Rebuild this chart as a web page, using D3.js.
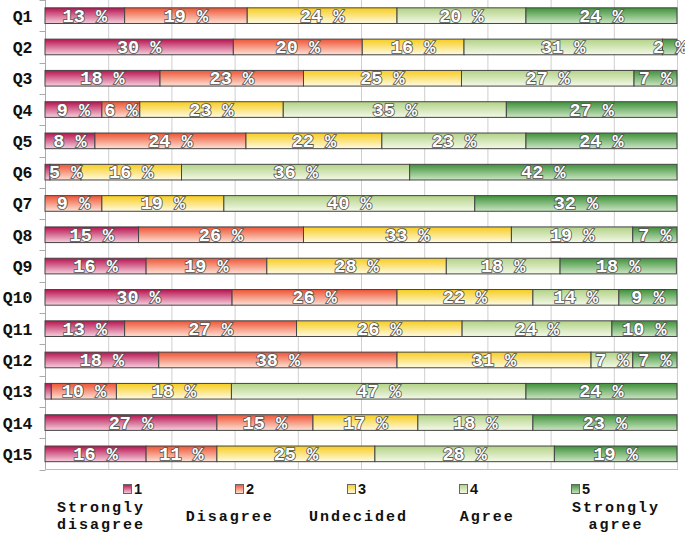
<!DOCTYPE html>
<html>
<head>
<meta charset="utf-8">
<script src="https://cdn.jsdelivr.net/npm/d3@7"></script>
<style>
  body { margin: 0; background: #fff; }
  .lbl { font-family: "Liberation Mono", "Courier New", monospace; font-weight: bold; }
</style>
</head>
<body>
<div id="chart"></div>
<script>
// questions and answer levels
var questions = ["Q1","Q2","Q3","Q4","Q5","Q6","Q7","Q8","Q9","Q10","Q11","Q12","Q13","Q14","Q15"];
var levels = ["1","2","3","4","5"];
var levelNames = [["Strongly","disagree"],["Disagree"],["Undecided"],["Agree"],["Strongly","agree"]];

// share of answers (%) per level, one value per question
var level1 = [12.6, 29.8, 18.2,  9.0,  7.9,  0.8,  0.0, 14.8, 16.0, 29.6, 12.6, 18.0,  1.0, 27.2, 16.0];
var level2 = [19.4, 20.4, 22.7,  6.0, 23.9,  4.9,  9.0, 26.1, 19.1, 26.1, 27.2, 37.7, 10.3, 15.2, 11.2];
var level3 = [23.7, 16.1, 25.0, 22.7, 21.5, 15.9, 19.3, 32.9, 28.4, 21.5, 26.2, 30.7, 18.2, 16.6, 25.0];
var level4 = [20.4, 31.4, 27.3, 35.3, 22.8, 36.1, 39.7, 19.2, 18.0, 13.6, 23.7,  6.6, 46.6, 18.2, 28.4];
var level5 = [23.9,  2.3,  6.8, 27.0, 23.9, 42.3, 32.0,  7.0, 18.4,  9.2, 10.3,  7.0, 23.9, 22.8, 19.4];

var xTicks = [0,10,20,30,40,50,60,70,80,90,100];

var colorTop = ["#b8124f", "#ee5434", "#f7cc1e", "#b2d286", "#3f913a"];
var colorBot = ["#f6d0de", "#fde2d6", "#fffbe4", "#f4f9e8", "#cbe6c3"];

var width = 685, height = 533;
var margin = {left: 45, top: 0, right: 8, bottom: 64};

var svg = d3.select("#chart").append("svg")
    .attr("width", width)
    .attr("height", height);

var defs = svg.append("defs");
levels.forEach(function (l, i) {
    var g = defs.append("linearGradient")
        .attr("id", "grad" + i)
        .attr("x1", 0).attr("y1", 0).attr("x2", 0).attr("y2", 1);
    g.append("stop").attr("offset", "0%").attr("stop-color", colorTop[i]);
    g.append("stop").attr("offset", "100%").attr("stop-color", colorBot[i]);
});

var table = questions.map(function (q, i) {
    return {q: q, "1": level1[i], "2": level2[i], "3": level3[i], "4": level4[i], "5": level5[i]};
});
var series = d3.stack().keys(levels)(table);

var x = d3.scaleLinear().domain([0, 100]).range([margin.left, width - margin.right]);
var y = d3.scaleBand().domain(questions).range([0, 469.5])
    .paddingInner(0.5).paddingOuter(0.25);

// grid
svg.append("g").selectAll("line").data(xTicks).enter().append("line")
    .attr("x1", function (d) { return x(d) + 0.5; })
    .attr("x2", function (d) { return x(d) + 0.5; })
    .attr("y1", 0).attr("y2", 469.5)
    .attr("stroke", function (d) { return d == 0 ? "#aaa" : "#cfcfcf"; });

svg.append("line")
    .attr("x1", x(0)).attr("x2", x(100) + 1)
    .attr("y1", 469.5).attr("y2", 469.5)
    .attr("stroke", "#bbb");

// left axis: ticks between bands
var yAxis = svg.append("g").attr("transform", "translate(" + (x(0) + 0.5) + ",0)");
var bounds = d3.range(questions.length + 1).map(function (i) { return i * y.step(); });
yAxis.selectAll("line").data(bounds).enter().append("line")
    .attr("x1", -6).attr("x2", 0)
    .attr("y1", function (d) { return Math.round(d) + 0.5; })
    .attr("y2", function (d) { return Math.round(d) + 0.5; })
    .attr("stroke", "#aaa");
yAxis.selectAll("text").data(questions).enter().append("text")
    .attr("class", "lbl")
    .attr("x", -13)
    .attr("y", function (d) { return y(d) + y.bandwidth() / 2 + 6; })
    .attr("text-anchor", "end")
    .style("font-size", "16.5px")
    .attr("fill", "#111")
    .text(function (d) { return d; });

// bars
var layer = svg.append("g").selectAll("g").data(series).enter().append("g")
    .attr("fill", function (d, i) { return "url(#grad" + i + ")"; });

layer.selectAll("rect").data(function (d) { return d; }).enter()
    .filter(function (d) { return d[1] - d[0] > 0; })
    .append("rect")
    .attr("x", function (d) { return x(d[0]); })
    .attr("width", function (d) { return x(d[1]) - x(d[0]); })
    .attr("y", function (d) { return y(d.data.q); })
    .attr("height", y.bandwidth())
    .attr("stroke", "#444")
    .attr("stroke-width", 1);

// value labels
var labels = svg.append("g");
series.forEach(function (s) {
    s.forEach(function (d) {
        var v = d[1] - d[0];
        if (v < 1.5) return;
        labels.append("text")
            .attr("class", "lbl")
            .attr("x", x((d[0] + d[1]) / 2))
            .attr("y", y(d.data.q) + y.bandwidth() / 2 + 6)
            .attr("text-anchor", "middle")
            .style("font-size", "18.5px")
            .attr("fill", "#fff")
            .attr("stroke", "#555")
            .attr("stroke-width", 1.7)
            .style("paint-order", "stroke")
            .text(Math.round(v) + " %");
    });
});

// legend
var keyX = d3.scalePoint().domain(levels).range([123, 571]);
var nameX = d3.scalePoint().domain(levels).range([101, 616]);

var legend = svg.append("g");
levels.forEach(function (l, i) {
    legend.append("rect")
        .attr("x", keyX(l) + 0.5).attr("y", 484.5)
        .attr("width", 8).attr("height", 9)
        .attr("fill", "url(#grad" + i + ")")
        .attr("stroke", "#666");
    legend.append("text")
        .attr("x", keyX(l) + 11)
        .attr("y", 494)
        .style("font-family", "'Liberation Sans', Arial, sans-serif")
        .style("font-weight", "bold")
        .style("font-size", "14.5px")
        .attr("fill", "#111")
        .text(l);
    var lines = levelNames[i];
    lines.forEach(function (t, j) {
        var base = lines.length == 1 ? 521 : 512 + j * 16.5;
        legend.append("text")
            .attr("class", "lbl")
            .attr("x", nameX(l))
            .attr("y", base)
            .attr("text-anchor", "middle")
            .style("font-size", "15px")
            .style("letter-spacing", "2px")
            .attr("fill", "#111")
            .text(t);
    });
});
</script>
</body>
</html>
